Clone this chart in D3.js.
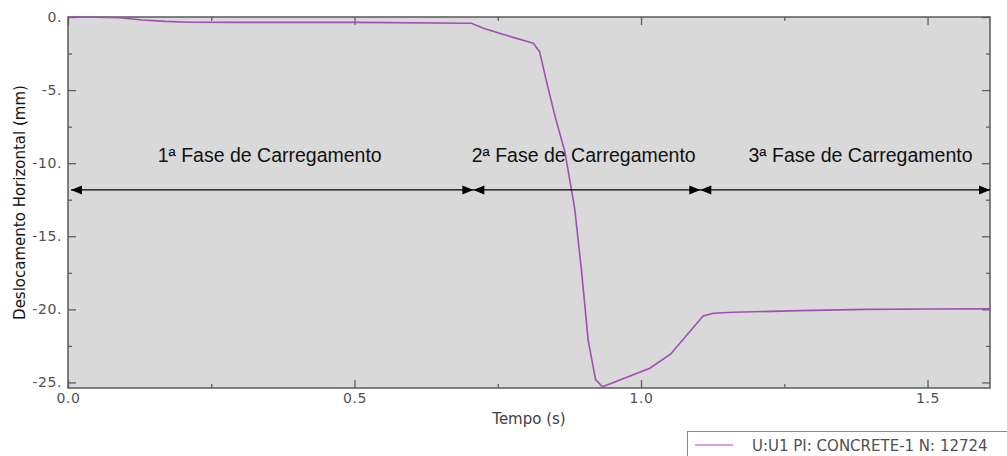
<!DOCTYPE html>
<html>
<head>
<meta charset="utf-8">
<script src="https://cdn.jsdelivr.net/npm/d3@7"></script>
<style>
  body { margin: 0; background: #fff; }
  svg { display: block; }
  .tick text { font-family: "DejaVu Sans", Verdana, sans-serif; fill: #505050; }
</style>
</head>
<body>
<svg id="chart"></svg>
<script>
// curve U:U1
let times = [0, 0.05, 0.09, 0.13, 0.17, 0.21, 0.3, 0.5, 0.704, 0.725, 0.76, 0.812, 0.823, 0.835, 0.85, 0.867, 0.8816, 0.8845, 0.896, 0.9077, 0.9206, 0.9328, 1.0154, 1.0514, 1.1084, 1.126, 1.16, 1.277, 1.393, 1.5, 1.609]
let displ = [0, -0.02, -0.05, -0.2, -0.3, -0.36, -0.37, -0.37, -0.43, -0.77, -1.2, -1.8, -2.37, -4.4, -6.8, -9.2, -12.5, -13.2, -17.3, -22.1, -24.8, -25.3, -24.03, -23.07, -20.45, -20.27, -20.2, -20.09, -20.0, -19.98, -19.97]

// loading phases
let phaseLabels = ["1ª Fase de Carregamento", "2ª Fase de Carregamento", "3ª Fase de Carregamento"]
let phaseStart = [0, 0.7074, 1.1035]
let phaseEnd = [0.7074, 1.1035, 1.609]
let phaseLabelT = [0.352, 0.9, 1.383]
let phaseLabelV = -9.92
let phaseArrowV = -11.83

let xMajor = [0, 0.5, 1.0, 1.5]
let xMinor = [0.25, 0.75, 1.25]
let yMajor = [0, -5, -10, -15, -20, -25]
let yMinor = [-2.5, -7.5, -12.5, -17.5, -22.5]

let legendText = "U:U1 PI: CONCRETE-1 N: 12724"

let width = 1007, height = 456
let margin = { top: 17, left: 68, right: 17, bottom: 68 }
let bodyWidth = width - margin.left - margin.right
let bodyHeight = height - margin.top - margin.bottom

let svg = d3.select("#chart").attr("width", width).attr("height", height)

let xScale = d3.scaleLinear().domain([0, 1.609]).range([margin.left, margin.left + bodyWidth])
let yScale = d3.scaleLinear().domain([-25.38, 0]).range([margin.top + bodyHeight, margin.top])

// plot background
svg.append("rect")
  .attr("x", xScale(0)).attr("y", yScale(0))
  .attr("width", bodyWidth).attr("height", bodyHeight)
  .attr("fill", "#d9d9d9")

// axes, ticks pointing inwards on every side
function styleAxis(g) {
  g.select(".domain").remove()
  g.selectAll(".tick line").attr("stroke", "#606060").attr("stroke-width", 1.3)
}
function addAxis(axis, tx, ty) {
  return svg.append("g")
    .attr("transform", `translate(${tx},${ty})`)
    .call(axis)
    .call(styleAxis)
}

let bottomY = yScale.range()[0], topY = yScale.range()[1]
let leftX = xScale.range()[0], rightX = xScale.range()[1]

addAxis(d3.axisBottom(xScale).tickValues(xMajor).tickSize(-8).tickPadding(5).tickFormat(d3.format(".1f")), 0, bottomY)
  .selectAll("text").style("font-size", "14px").style("letter-spacing", "0.6px")
addAxis(d3.axisBottom(xScale).tickValues(xMinor).tickSize(-4).tickFormat(""), 0, bottomY)
addAxis(d3.axisTop(xScale).tickValues(xMajor).tickSize(-8).tickFormat(""), 0, topY)
addAxis(d3.axisTop(xScale).tickValues(xMinor).tickSize(-4).tickFormat(""), 0, topY)

addAxis(d3.axisLeft(yScale).tickValues(yMajor).tickSize(-8).tickPadding(6).tickFormat(d => d + "."), leftX, 0)
  .selectAll("text").style("font-size", "14px").style("letter-spacing", "0.6px")
addAxis(d3.axisLeft(yScale).tickValues(yMinor).tickSize(-4).tickFormat(""), leftX, 0)
addAxis(d3.axisRight(yScale).tickValues(yMajor).tickSize(-8).tickFormat(""), rightX, 0)
addAxis(d3.axisRight(yScale).tickValues(yMinor).tickSize(-4).tickFormat(""), rightX, 0)

// frame
svg.append("rect")
  .attr("x", leftX).attr("y", topY)
  .attr("width", bodyWidth).attr("height", bodyHeight)
  .attr("fill", "none").attr("stroke", "#5a5a5a").attr("stroke-width", 1.5)

// axis titles
svg.append("text")
  .attr("x", (leftX + rightX) / 2).attr("y", 424)
  .attr("text-anchor", "middle")
  .style("font-family", "DejaVu Sans, Verdana, sans-serif")
  .style("font-size", "15px")
  .style("fill", "#404040")
  .text("Tempo (s)")

svg.append("text")
  .attr("transform", `translate(25,${(topY + bottomY) / 2}) rotate(-90)`)
  .attr("text-anchor", "middle")
  .style("font-family", "DejaVu Sans, Verdana, sans-serif")
  .style("font-size", "15px")
  .style("fill", "#111")
  .text("Deslocamento Horizontal (mm)")

// the curve
let points = times.map((t, i) => [t, displ[i]])
let line = d3.line().x(d => xScale(d[0])).y(d => yScale(d[1]))
svg.append("path")
  .datum(points)
  .attr("d", line)
  .attr("fill", "none")
  .attr("stroke", "#a24fb3")
  .attr("stroke-width", 1.6)

// phase arrows
function arrowHead(x, y, dir) {
  // dir = 1 points right, -1 points left
  let len = 11, half = 4.5
  return `M${x},${y}L${x - dir * len},${y - half}L${x - dir * len},${y + half}Z`
}
let ay = yScale(phaseArrowV)
phaseStart.forEach((s, i) => {
  let x0 = xScale(s) + (i == 0 ? 3 : 0)
  let x1 = xScale(phaseEnd[i])
  svg.append("line")
    .attr("x1", x0).attr("x2", x1).attr("y1", ay).attr("y2", ay)
    .attr("stroke", "#000").attr("stroke-width", 1.2)
  svg.append("path").attr("d", arrowHead(x0, ay, -1)).attr("fill", "#000")
  svg.append("path").attr("d", arrowHead(x1, ay, 1)).attr("fill", "#000")
})

svg.selectAll(".phase-label")
  .data(phaseLabels)
  .enter()
  .append("text")
  .attr("class", "phase-label")
  .attr("x", (d, i) => xScale(phaseLabelT[i]))
  .attr("y", yScale(phaseLabelV))
  .attr("text-anchor", "middle")
  .style("font-family", "Liberation Sans, Arial, sans-serif")
  .style("font-size", "19.5px")
  .style("fill", "#111")
  .text(d => d)

// legend
svg.append("rect")
  .attr("x", 687.5).attr("y", 431.5)
  .attr("width", 330).attr("height", 40)
  .attr("fill", "#fff").attr("stroke", "#8a8a8a").attr("stroke-width", 1)
svg.append("line")
  .attr("x1", 695).attr("x2", 733).attr("y1", 445).attr("y2", 445)
  .attr("stroke", "#d17ddf").attr("stroke-width", 1.5)
svg.append("text")
  .attr("x", 752).attr("y", 451)
  .style("font-family", "DejaVu Sans, Verdana, sans-serif")
  .style("font-size", "15px")
  .style("fill", "#505050")
  .text(legendText)
</script>
</body>
</html>
